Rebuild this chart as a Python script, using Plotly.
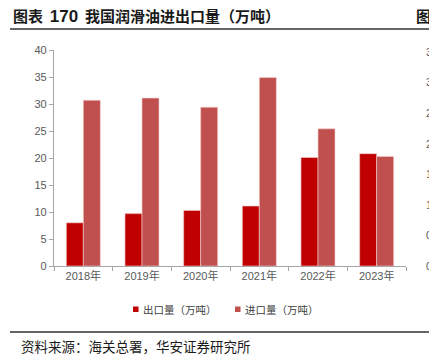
import plotly.graph_objects as go

years = ["2018年", "2019年", "2020年", "2021年", "2022年", "2023年"]
export_vals = [8.0, 9.7, 10.3, 11.1, 20.1, 20.8]
import_vals = [30.7, 31.1, 29.4, 34.9, 25.4, 20.3]
series_names = ["出口量（万吨）", "进口量（万吨）"]
series_colors = ["#C00000", "#C0504D"]
right_ticks = ["3.5", "3.0", "2.5", "2.0", "1.5", "1.0", "0.5", "0.0"]

OFF = 8  # default body margin of the page
W, H = 437 - OFF, 364 - OFF
L = 54 - OFF
T = 50 - OFF
R = W - (406 - OFF)
B = H - (266 - OFF)
PW, PH = W - L - R, H - T - B

def px(x):  # page pixel -> paper
    return (x - OFF - L) / PW

def py(y):
    return (H - B - (y - OFF)) / PH

CJK = "Noto Sans CJK SC"
fig = go.Figure()
fig.add_trace(go.Bar(x=years, y=export_vals, name=series_names[0],
                     marker=dict(color=series_colors[0], line=dict(color="#f4d0d0", width=0.6))))
fig.add_trace(go.Bar(x=years, y=import_vals, name=series_names[1],
                     marker=dict(color=series_colors[1], line=dict(color="#f4d0d0", width=0.6))))

fig.update_layout(
    width=W, height=H, autosize=False,
    margin=dict(l=L, r=R, t=T, b=B, pad=0),
    paper_bgcolor="white", plot_bgcolor="white",
    barmode="group", bargap=0.42, bargroupgap=0,
    font=dict(family=CJK, color="#595959", size=11),
    showlegend=False,
    xaxis=dict(showline=True, linecolor="#a6a6a6", linewidth=1.3, ticks="outside",
               tickson="boundaries", ticklen=4, tickcolor="#a6a6a6", showgrid=False,
               tickfont=dict(size=11, color="#595959", family="Liberation Sans, " + CJK)),
    yaxis=dict(range=[0, 40], dtick=5, showline=True, linecolor="#a6a6a6", linewidth=1.3,
               ticks="outside", ticklen=4, tickcolor="#a6a6a6", showgrid=False, zeroline=False,
               tickfont=dict(size=11, color="#595959", family="Liberation Sans")),
)

ann = []
ann.append(dict(text="<b>图表&nbsp;&nbsp;<span style='font-family:Liberation Sans;font-size:17px'>170</span>&nbsp;&nbsp;我国润滑油进出口量（万吨）</b>",
                x=px(11), y=py(16), xanchor="left", yanchor="middle",
                font=dict(size=15, color="#1a1a1a", family=CJK)))
ann.append(dict(text="<b>图表</b>", x=px(414), y=py(16), xanchor="left", yanchor="middle",
                font=dict(size=15, color="#1a1a1a", family=CJK)))
ann.append(dict(text="资料来源：海关总署，华安证券研究所", x=px(19), y=py(346), xanchor="left",
                yanchor="middle", font=dict(size=13.5, color="#1a1a1a", family=CJK)))
ann.append(dict(text="资", x=px(428), y=py(346), xanchor="left", yanchor="middle",
                font=dict(size=13.5, color="#1a1a1a", family=CJK)))
for i, t in enumerate(right_ticks):
    ann.append(dict(text=t, x=px(424), y=py(51.7 + i * (266 - 51.7) / 7), xanchor="left",
                    yanchor="middle", font=dict(size=11, color="#595959", family="Liberation Sans")))
# legend
leg_x = [133, 235]
for name, col, lx in zip(series_names, series_colors, leg_x):
    ann.append(dict(text=name, x=px(lx + 8), y=py(309), xanchor="left", yanchor="middle",
                    font=dict(size=10.5, color="#404040", family=CJK)))
for a in ann:
    a.update(xref="paper", yref="paper", showarrow=False)
fig.update_layout(annotations=ann)

shapes = [
    dict(type="line", xref="paper", yref="paper", x0=px(10), x1=px(437), y0=py(29), y1=py(29),
         line=dict(color="#333333", width=1.3)),
    dict(type="line", xref="paper", yref="paper", x0=px(10), x1=px(437), y0=py(332), y1=py(332),
         line=dict(color="#333333", width=1.3)),
]
for col, lx in zip(series_colors, leg_x):
    shapes.append(dict(type="rect", xref="paper", yref="paper", x0=px(lx), x1=px(lx + 5.5),
                       y0=py(306.5), y1=py(312), fillcolor=col, line=dict(width=0)))
fig.update_layout(shapes=shapes)

fig.write_html("out.html")
